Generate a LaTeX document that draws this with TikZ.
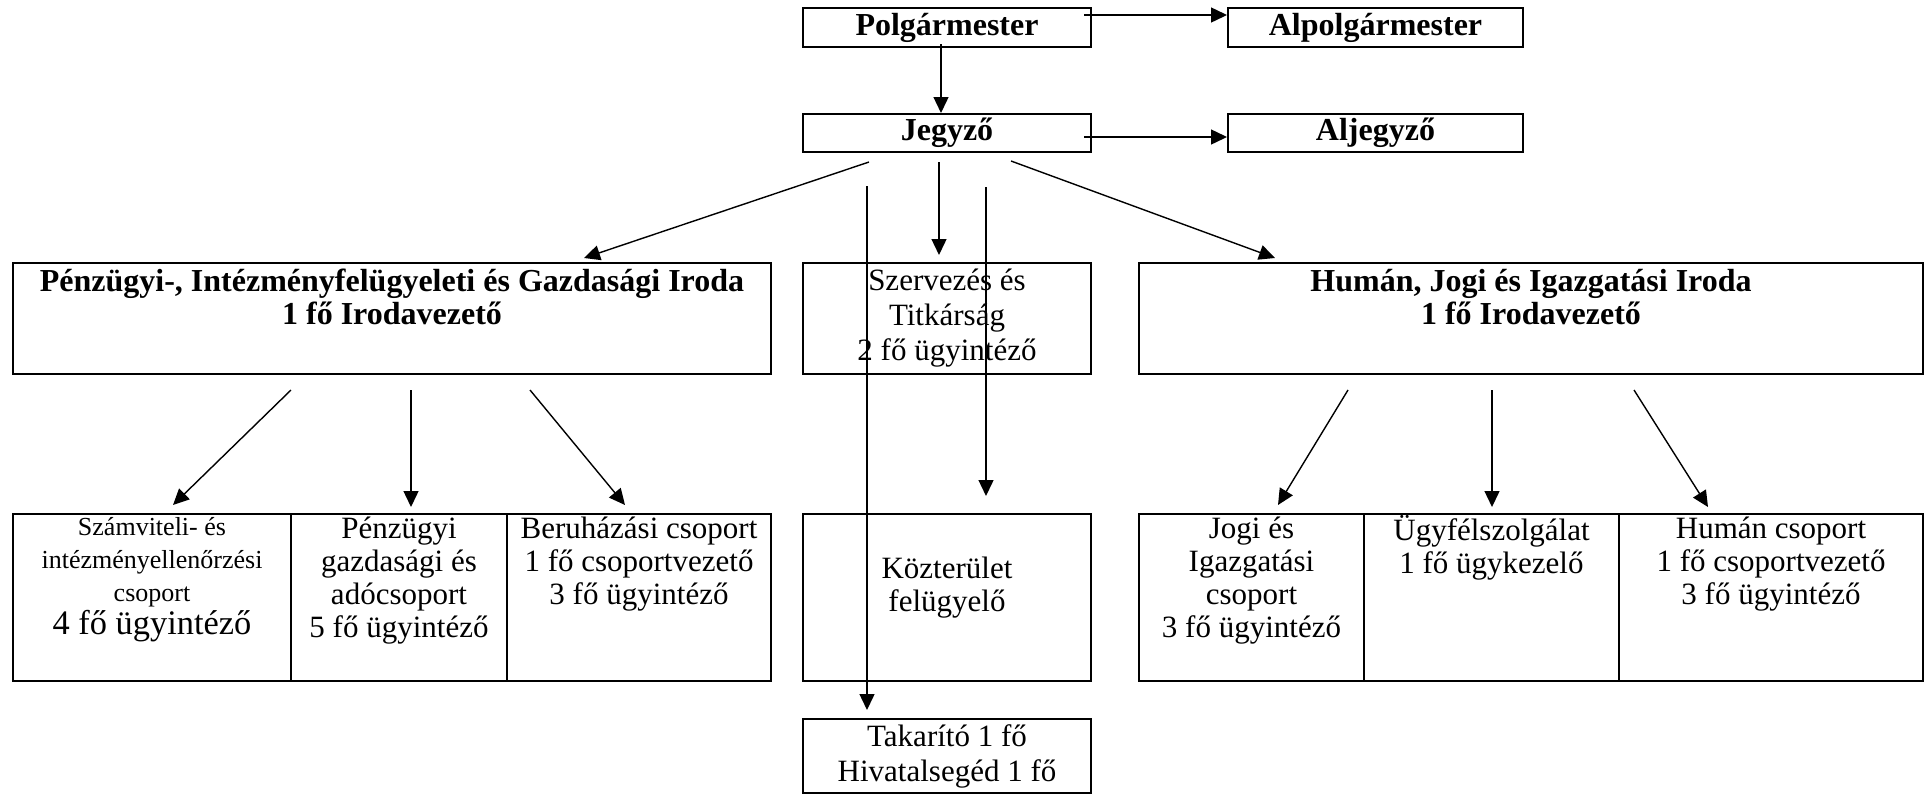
\documentclass[tikz,border=0pt]{standalone}
\usepackage{fontspec}
\setmainfont{Liberation Serif}
\usetikzlibrary{positioning,arrows.meta}
\newcommand\smallfnt{\fontsize{13pt}{15pt}\selectfont}
\newcommand\bigfnt{\fontsize{17.2pt}{16.5pt}\selectfont}

\begin{document}
\begin{tikzpicture}[x=0.5pt,y=-0.5pt,
  box/.style={draw,line width=1pt,inner sep=0pt,anchor=north west,
    align=center,font=\fontsize{15.5pt}{17.5pt}\selectfont},
  head/.style={box,font=\fontsize{16pt}{17pt}\selectfont\bfseries},
  txt/.style={inner sep=0pt,align=center,font=\fontsize{15.5pt}{16.5pt}\selectfont},
  headtxt/.style={txt,font=\fontsize{16pt}{16.5pt}\selectfont\bfseries},
  arr/.style={-{Triangle[length=8pt,width=7.5pt]},line width=.7pt},
  node distance=2pt]
\useasboundingbox (0,0) rectangle (1926,793);

 \node[head,minimum width=144pt,minimum height=19.5pt] (polg) at (802,7) {Polgármester};
 \node[head,minimum width=147.5pt,minimum height=19.5pt] (alpolg) at (1227,7) {Alpolgármester};
 \node[head,minimum width=144pt,minimum height=19pt] (jegyzo) at (802,113) {Jegyző};
 \node[head,minimum width=147.5pt,minimum height=19pt] (aljegyzo) at (1227,113) {Aljegyző};

 \node[box,minimum width=379pt,minimum height=55.5pt] (penzugy) at (12,262) {};
 \node[headtxt,below=3.5pt of penzugy.north] (penzugyt) {Pénzügyi-, Intézményfelügyeleti és Gazdasági Iroda\\ 1 fő Irodavezető};
 \node[box,minimum width=144pt,minimum height=55.5pt] (szerv) at (802,262) {Szervezés és\\ Titkárság\\ 2 fő ügyintéző};
 \node[box,minimum width=392pt,minimum height=55.5pt] (human) at (1138,262) {};
 \node[headtxt,below=3.5pt of human.north] (humant) {Humán, Jogi és Igazgatási Iroda\\ 1 fő Irodavezető};

 % csoportok
 \node[box,minimum width=139pt,minimum height=83.5pt] (szamv) at (12,513) {};
 \node[txt,below=of szamv.north] (szamvt) {\smallfnt Számviteli- és\\ \smallfnt intézményellenőrzési\\ \smallfnt csoport\\ \bigfnt 4 fő ügyintéző};
 \node[box,minimum width=108pt,minimum height=83.5pt] (pgazd) at (290,513) {};
 \node[txt,below=of pgazd.north] (pgazdt) {Pénzügyi\\ gazdasági és\\ adócsoport\\ 5 fő ügyintéző};
 \node[box,minimum width=132pt,minimum height=83.5pt] (beruh) at (506,513) {};
 \node[txt,below=of beruh.north] (beruht) {Beruházási csoport\\ 1 fő csoportvezető\\ 3 fő ügyintéző};

 \node[box,minimum width=144pt,minimum height=83.5pt] (kozter) at (802,513) {};
 \node[txt] (koztert) at ([shift={(0,-10)}]kozter.center) {Közterület\\ felügyelő};
 \node[box,minimum width=144pt,minimum height=37pt] (takar) at (802,718) {Takarító 1 fő\\ Hivatalsegéd 1 fő};

 \node[box,minimum width=112.5pt,minimum height=83.5pt] (jogi) at (1138,513) {};
 \node[txt,below=of jogi.north] (jogit) {Jogi és\\ Igazgatási\\ csoport\\ 3 fő ügyintéző};
 \node[box,minimum width=127.5pt,minimum height=83.5pt] (ugyfel) at (1363,513) {};
 \node[txt,below=1pt of ugyfel.north] (ugyfelt) {Ügyfélszolgálat\\ 1 fő ügykezelő};
 \node[box,minimum width=152pt,minimum height=83.5pt] (humcs) at (1618,513) {};
 \node[txt,below=of humcs.north] (humcst) {Humán csoport\\ 1 fő csoportvezető\\ 3 fő ügyintéző};

 % nyilak
 \draw[arr] ([shift={(-8,8)}]polg.north east) -- ([shift={(0,8)}]alpolg.north west);
 \draw[arr] ([shift={(-6,-4)}]polg.south) -- ([shift={(-6,0)}]jegyzo.north);
 \draw[arr] ([shift={(-8,4)}]jegyzo.east) -- ([shift={(0,4)}]aljegyzo.west);

 \draw[arr] ([shift={(-78,9)}]jegyzo.south) -- ([shift={(192,-4)}]penzugy.north);
 \draw[arr] ([shift={(-8,9)}]jegyzo.south) -- ([shift={(-8,-7)}]szerv.north);
 \draw[arr] ([shift={(64,8)}]jegyzo.south) -- ([shift={(-256,-4)}]human.north);
 \draw[arr] ([shift={(-80,33)}]jegyzo.south) -- ([shift={(-80,-8)}]takar.north);
 \draw[arr] ([shift={(39,34)}]jegyzo.south) -- ([shift={(39,-17)}]kozter.north);

 \draw[arr] ([shift={(-101,15)}]penzugy.south) -- ([shift={(21,-8)}]szamv.north);
 \draw[arr] ([shift={(19,15)}]penzugy.south) -- ([shift={(12,-6)}]pgazd.north);
 \draw[arr] ([shift={(138,15)}]penzugy.south) -- ([shift={(-14,-8)}]beruh.north);

 \draw[arr] ([shift={(-183,15)}]human.south) -- ([shift={(26.5,-8)}]jogi.north);
 \draw[arr] ([shift={(-39,15)}]human.south) -- ([shift={(0.5,-6)}]ugyfel.north);
 \draw[arr] ([shift={(103,15)}]human.south) -- ([shift={(-63,-6)}]humcs.north);
\end{tikzpicture}
\end{document}
